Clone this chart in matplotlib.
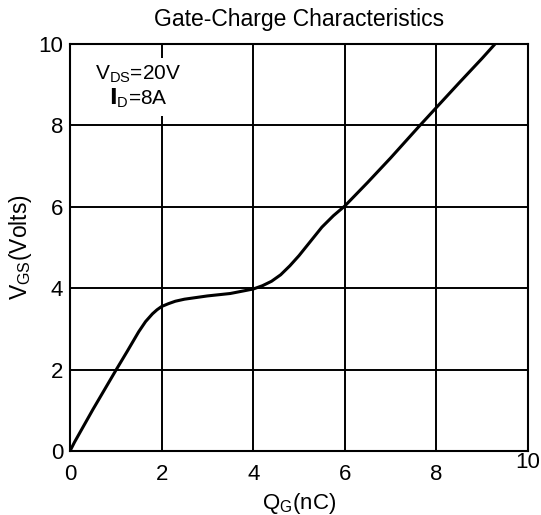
import matplotlib
matplotlib.use('Agg')
import matplotlib.pyplot as plt
import matplotlib.transforms as mtransforms

plt.rcParams['font.family'] = ['Liberation Sans', 'DejaVu Sans']
plt.rcParams['mathtext.fontset'] = 'custom'
plt.rcParams['mathtext.rm'] = 'Liberation Sans'

# gate charge curve
qg = [0, 0.1, 0.25, 0.5, 0.75, 1.0, 1.25, 1.5, 1.65, 1.8, 1.9, 2.0, 2.15, 2.3, 2.5,
      3.0, 3.5, 4.0, 4.2, 4.4, 4.6, 4.8, 5.0, 5.2, 5.5, 5.75, 6.0, 6.5, 7.0, 7.6,
      8.0, 8.5, 9.0, 9.28]
vgs = [0, 0.22, 0.52, 1.02, 1.5, 1.98, 2.45, 2.93, 3.18, 3.37, 3.47, 3.55, 3.62, 3.68, 3.73,
       3.81, 3.87, 3.98, 4.06, 4.17, 4.33, 4.55, 4.8, 5.08, 5.5, 5.78, 6.02, 6.6, 7.2, 7.95,
       8.44, 9.05, 9.65, 10.0]
xticks = [0, 2, 4, 6, 8, 10]
yticks = [0, 2, 4, 6, 8, 10]

fig = plt.figure(figsize=(5.41, 5.15), dpi=100)
ax = fig.add_axes([70/541, 64/515, 458/541, 407/515])

ax.plot(qg, vgs, color='black', lw=2.2, zorder=3, solid_joinstyle='round')
ax.set_xlim(0, 10)
ax.set_ylim(0, 10)
ax.set_xticks(xticks)
ax.set_yticks(yticks)
ax.grid(True, color='black', lw=1.4)
ax.set_axisbelow(True)
for s in ax.spines.values():
    s.set_linewidth(1.5)
ax.tick_params(axis='x', length=0, labelsize=16, pad=9)
ax.tick_params(axis='y', length=0, labelsize=16, pad=5)

# the "10" on the x axis sits higher than the others
lbl = ax.get_xticklabels()[-1]
lbl.set_transform(lbl.get_transform() + mtransforms.ScaledTranslation(0, 8/72, fig.dpi_scale_trans))

ax.set_xlabel(r'$\mathregular{Q_G}$(nC)', fontsize=16, labelpad=5)
ax.set_ylabel(r'$\mathregular{V_{GS}}$(Volts)', fontsize=16.5, labelpad=3)
ax.set_title('Gate-Charge Characteristics', fontsize=16.5, pad=13)

ax.text(1.49, 8.95, '$\\mathregular{V_{DS}}$=20V\n$\\mathbf{I}$$\\mathregular{_D}$=8A',
        ha='center', va='center', fontsize=15, multialignment='center', linespacing=1.1,
        bbox=dict(facecolor='white', edgecolor='none', pad=4), zorder=4)

fig.savefig('out.png', dpi=100)
